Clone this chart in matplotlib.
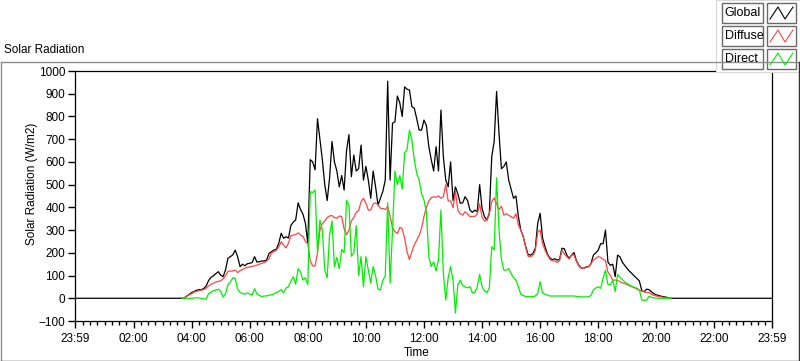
import matplotlib
matplotlib.use("Agg")
import matplotlib.pyplot as plt
import numpy as np
from matplotlib.patches import Rectangle
from matplotlib.lines import Line2D

# readings every 5 minutes, 03:40 .. 20:30 (W/m2)
START_MIN = 220
STEP_MIN = 5

global_rad = [
    0, 2, 10, 17,
    25, 30, 35, 38, 38, 43, 54, 78, 92, 99, 108, 117,
    102, 95, 125, 176, 183, 191, 212, 183, 139, 150, 143, 152,
    154, 157, 183, 159, 161, 164, 164, 169, 198, 205, 212, 216,
    242, 286, 264, 271, 265, 320, 335, 345, 420, 390, 370, 330,
    242, 610, 600, 565, 790, 700, 610, 500, 430, 530, 690, 600,
    560, 490, 540, 476, 650, 720, 535, 630, 560, 570, 674, 520,
    580, 520, 440, 560, 491, 410, 440, 470, 520, 955, 520, 770,
    777, 890, 860, 800, 930, 920, 916, 843, 836, 790, 740, 740,
    784, 760, 667, 610, 560, 667, 560, 828, 623, 520, 490, 600,
    430, 490, 460, 418, 420, 447, 430, 388, 378, 388, 380, 500,
    395, 359, 344, 375, 623, 690, 910, 726, 570, 580, 600, 520,
    480, 440, 450, 360, 300, 271, 230, 192, 190, 197, 220, 330,
    374, 265, 227, 195, 177, 170, 174, 168, 170, 220, 218, 190,
    176, 190, 201, 165, 145, 133, 132, 138, 139, 152, 190, 200,
    212, 240, 240, 300, 160, 145, 150, 95, 190, 182, 158, 144,
    130, 118, 108, 97, 87, 76, 33, 29, 40, 38, 28, 20,
    15, 12, 9, 7, 5, 2, 0,
]

diffuse_rad = [
    0, 3, 9, 15,
    20, 27, 30, 34, 36, 38, 44, 54, 62, 66, 72, 74,
    77, 85, 100, 118, 120, 120, 124, 113, 122, 126, 132, 136,
    138, 140, 143, 146, 150, 154, 157, 163, 175, 200, 205, 212,
    225, 249, 234, 222, 242, 275, 278, 280, 288, 278, 272, 250,
    240, 165, 142, 142, 200, 300, 328, 340, 355, 362, 364, 355,
    352, 362, 359, 305, 280, 300, 340, 355, 378, 386, 425, 440,
    418, 388, 388, 415, 420, 412, 396, 395, 390, 405, 360, 310,
    293, 285, 312, 306, 265, 205, 170, 205, 235, 256, 276, 308,
    360, 400, 428, 443, 446, 445, 450, 440, 447, 500, 428, 428,
    398, 470, 388, 372, 366, 381, 370, 359, 360, 360, 370, 415,
    356, 340, 344, 370, 425, 442, 415, 390, 405, 366, 372, 365,
    359, 352, 372, 322, 300, 273, 225, 185, 183, 188, 210, 290,
    300, 240, 212, 190, 172, 164, 165, 157, 165, 210, 196, 183,
    172, 190, 190, 162, 141, 133, 132, 135, 140, 152, 168, 175,
    183, 180, 172, 165, 115, 100, 80, 80, 78, 73, 68, 64,
    60, 55, 50, 46, 40, 35, 31, 28, 25, 26, 17, 13,
    10, 8, 6, 4, 2, 1, 0,
]

direct_rad = [
    0, 0, 0, 0,
    0, 1, 2, 2, -1, -3, -3, 20, 27, 33, 36, 40,
    30, 5, 20, 60, 72, 90, 88, 40, 25, 22, 18, 24,
    18, 15, 42, 18, 12, 8, 10, 10, 14, 15, 19, 25,
    30, 38, 24, 45, 51, 75, 95, 62, 130, 115, 80, 90,
    60, 469, 465, 476, 200, 344, 300, 124, 90, 280, 340, 139,
    180, 130, 215, 200, 430, 410, 185, 200, 320, 100, 183, 50,
    183, 124, 66, 140, 100, 40, 37, 78, 100, 420, 66, 300,
    560, 500, 540, 480, 640, 655, 740, 696, 608, 550, 520, 460,
    432, 380, 183, 140, 160, 120, 170, 388, 110, -8, 90, 140,
    80, -65, 60, 80, 55, 50, 46, 51, 24, 26, 50, 105,
    50, 32, 25, 45, 227, 212, 530, 300, 170, 124, 124, 130,
    110, 90, 80, 51, 18, 12, 8, 7, 7, 7, 10, 22,
    73, 22, 18, 14, 10, 10, 10, 10, 10, 10, 10, 10,
    10, 10, 10, 8, 7, 6, 6, 6, 7, 12, 37, 45,
    50, 44, 88, 124, 60, 60, 80, 30, 105, 92, 82, 72,
    64, 58, 52, 48, 44, 36, -7, -10, -8, 9, 4, 2,
    1, 0, 0, 0, 0, 0, 0,
]

x_tick_minutes = [-1, 120, 240, 360, 480, 600, 720, 840, 960, 1080, 1200, 1320, 1439]
x_tick_labels = ["23:59", "02:00", "04:00", "06:00", "08:00", "10:00", "12:00",
                 "14:00", "16:00", "18:00", "20:00", "22:00", "23:59"]
y_ticks = list(range(-100, 1001, 100))

GLOBAL_COLOR = "#000000"
DIFFUSE_COLOR = "#ff4545"
DIRECT_COLOR = "#00f000"
FONT = "Liberation Sans"

plt.rcParams["font.family"] = [FONT, "DejaVu Sans"]
plt.rcParams["font.size"] = 8.5

W, H = 800, 361


def fx(px):
    return px / W


def fy(py):
    return 1 - py / H


minutes = START_MIN + STEP_MIN * np.arange(len(global_rad))
day_minutes = np.concatenate([[-1], minutes, [1439]])
global_day = np.concatenate([[0], global_rad, [0]])

fig = plt.figure(figsize=(W / 100, H / 100), dpi=100)
fig.patch.set_facecolor("white")

# outer frame of the chart control
frame_kw = dict(transform=fig.transFigure, lw=1.0)
fig.add_artist(Line2D([fx(0.5), fx(798.5)], [fy(61.5), fy(61.5)], color="#8c8c8c", **frame_kw))
fig.add_artist(Line2D([fx(0.5), fx(0.5)], [fy(61.5), fy(360.5)], color="#8c8c8c", **frame_kw))
fig.add_artist(Line2D([fx(0.5), fx(798.5)], [fy(360.5), fy(360.5)], color="#303030", **frame_kw))
fig.add_artist(Line2D([fx(798.5), fx(798.5)], [fy(61.5), fy(360.5)], color="#303030", **frame_kw))

fig.text(fx(4), fy(50), "Solar Radiation", ha="left", va="center", fontsize=8.5)

ax = fig.add_axes([fx(75), fy(321), fx(772) - fx(75), fy(71) - fy(321)])
ax.plot(day_minutes, global_day, color=GLOBAL_COLOR, lw=0.9)
ax.plot(minutes, diffuse_rad, color=DIFFUSE_COLOR, lw=0.9)
ax.plot(minutes, direct_rad, color=DIRECT_COLOR, lw=0.9)

ax.set_xlim(-1, 1439)
ax.set_ylim(-100, 1000)
ax.set_xticks(x_tick_minutes)
ax.set_xticklabels(x_tick_labels)
ax.set_xticks(np.arange(15, 1439, 15), minor=True)
ax.set_yticks(y_ticks)
ax.tick_params(axis="x", which="major", direction="out", length=5, width=1, pad=4, labelsize=8.5)
ax.tick_params(axis="x", which="minor", direction="out", length=3, width=1)
ax.tick_params(axis="y", which="major", direction="out", length=5, width=1, pad=2, labelsize=8.5)
for side in ax.spines.values():
    side.set_linewidth(0.9)
    side.set_color("black")
ax.set_xlabel("Time", fontsize=8.5)
ax.xaxis.label.set_va("center")
ax.xaxis.set_label_coords((417 - 75) / 697, -(353 - 321) / 250)
ax.set_ylabel("Solar Radiation (W/m2)", fontsize=8.5)
ax.yaxis.label.set_va("center")
ax.yaxis.set_label_coords((32 - 75) / 697, 0.55)

# legend panel, top right
fig.add_artist(Rectangle((fx(716), fy(72)), fx(800) - fx(716), fy(0) - fy(72),
                         transform=fig.transFigure, facecolor="white",
                         edgecolor="#d8d8d8", lw=0.8))
names = ["Global", "Diffuse", "Direct"]
colors = [GLOBAL_COLOR, DIFFUSE_COLOR, DIRECT_COLOR]
for i, (name, color) in enumerate(zip(names, colors)):
    top = 3 + i * 23
    bottom = top + 20
    fig.add_artist(Rectangle((fx(722), fy(bottom)), fx(763) - fx(722), fy(top) - fy(bottom),
                             transform=fig.transFigure, facecolor="white",
                             edgecolor="#6a6a6a", lw=1.0))
    fig.text(fx(724.5), fy((top + bottom) / 2), name, ha="left", va="center", fontsize=9)
    fig.add_artist(Rectangle((fx(767), fy(bottom)), fx(796) - fx(767), fy(top) - fy(bottom),
                             transform=fig.transFigure, facecolor="white",
                             edgecolor="#6a6a6a", lw=1.0))
    zig_x = [770, 778, 785, 793]
    zig_y = [bottom - 4, top + 4, bottom - 4, top + 4]
    fig.add_artist(Line2D([fx(v) for v in zig_x], [fy(v) for v in zig_y],
                          transform=fig.transFigure, color=color, lw=0.8))

fig.savefig("out.png", dpi=100)
